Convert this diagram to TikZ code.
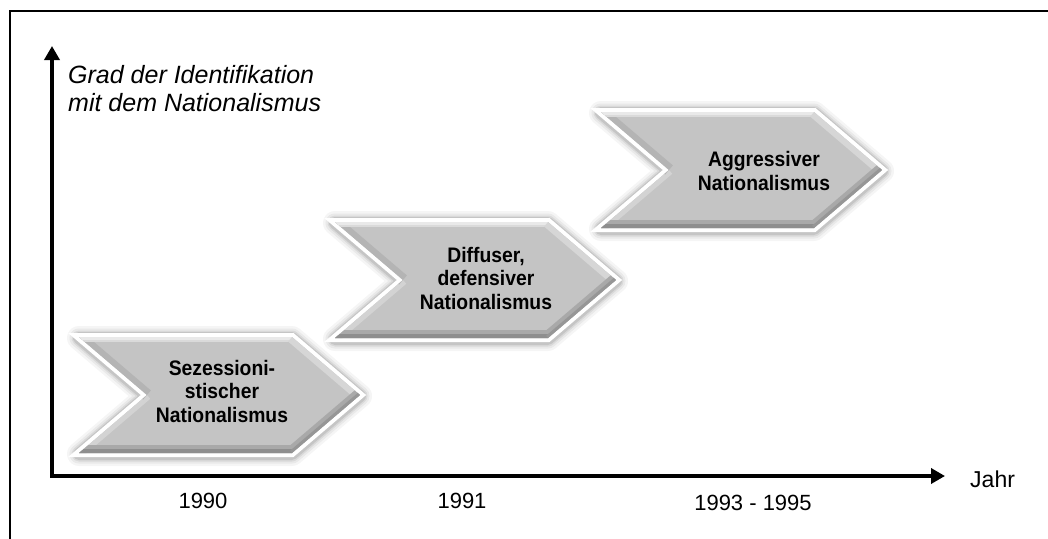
\documentclass[tikz,border=0pt]{standalone}
\usepackage{fontspec}
\setmainfont{Liberation Sans}
\newfontfamily\chevfont[FakeStretch=0.92]{Liberation Sans}
\usetikzlibrary{arrows.meta}
\definecolor{chevfill}{HTML}{C4C4C4}
\definecolor{bevlight}{HTML}{DADADA}
\definecolor{bevdark}{HTML}{8E8E8E}
\definecolor{bevmid}{HTML}{A9A9A9}
\tikzset{
  framestyle/.style={line width=2.5pt, line cap=rect},
  axisstyle/.style={line width=4.5pt, line join=miter,
     {Triangle[length=14pt,width=15pt]}-{Triangle[length=14pt,width=15pt]}},
  chevtext/.style={font=\chevfont\fontsize{21}{23.5}\selectfont\bfseries, align=center, text=black, inner sep=0pt},
  axislabel/.style={font=\fontsize{25}{28}\selectfont\itshape, align=left, inner sep=0pt, anchor=north west},
  yearlabel/.style={font=\fontsize{22}{26}\selectfont, inner sep=0pt, anchor=base},
}
% #1 = left, #2 = top of the outer chevron
\newcommand\drawchevron[2]{%
  \path (#1+4,#2+4) coordinate (A) (#1+217,#2+4) coordinate (B)
        (#1+285,#2+62) coordinate (C) (#1+217,#2+120) coordinate (D)
        (#1+4,#2+120) coordinate (E) (#1+72,#2+62) coordinate (F);
  \foreach \w/\o in {24/0.04,19/0.05,15/0.07,12/0.09}{%
    \draw[line width=\w pt, black, opacity=\o, line join=round] ([yshift=-1pt]A)--([yshift=-1pt]B)--([yshift=-1pt]C)--([yshift=-1pt]D)--([yshift=-1pt]E)--([yshift=-1pt]F)--cycle;}
  \filldraw[white, line width=8pt, line join=miter] (A)--(B)--(C)--(D)--(E)--(F)--cycle;
  \fill[chevfill] (A)--(B)--(C)--(D)--(E)--(F)--cycle;
  \begin{scope}
    \clip (A)--(B)--(C)--(D)--(E)--(F)--cycle;
    \draw[line width=10pt, bevlight!70!chevfill] (E)--(F);
    \draw[line width=12pt, bevmid!60!chevfill] (F)--(A);
    \draw[line width=10pt, bevlight] (A)--(B);
    \draw[line width=5pt, bevlight!60!white] (A)--(B);
    \draw[line width=12pt, bevlight!80!chevfill] (B)--(C);
    \draw[line width=14pt, bevmid] (C)--(D);
    \draw[line width=16pt, bevmid] (D)--(E);
    \draw[line width=8pt, bevdark] (D)--(E);
    \draw[line width=6pt, bevdark!70!bevmid] (C)--(D);
  \end{scope}
}
\begin{document}
\begin{tikzpicture}[x=1pt,y=-1pt]
\useasboundingbox (0,0) rectangle (1048,538);
% frame
\coordinate (frTR) at (1050,11);
\coordinate (frTL) at (10,11);
\coordinate (frBL) at (10,540);
\draw[framestyle] (frTR) -- (frTL) -- (frBL);
% chevrons
\drawchevron{75}{333}
\drawchevron{331}{218}
\drawchevron{597}{108}
\node[chevtext] (c1) at (222,391) {Sezessioni-\\stischer\\Nationalismus};
\node[chevtext] (c2) at (486,278) {Diffuser,\\defensiver\\Nationalismus};
\node[chevtext] (c3) at (764,171) {Aggressiver\\Nationalismus};
% axes
\coordinate (ytip) at (52,46);
\coordinate (origin) at (52,476);
\coordinate (xtip) at (945,476);
\draw[axisstyle] (ytip) -- (origin) -- (xtip);
\node[axislabel] (ylab) at (68,65) {Grad der Identifikation\\mit dem Nationalismus};
\node[font=\fontsize{23}{26}\selectfont, inner sep=0pt, anchor=base west] (xlab) at (970,487) {Jahr};
\node[yearlabel] (y1) at (203,508) {1990};
\node[yearlabel] (y2) at (462,508) {1991};
\node[yearlabel] (y3) at (753,510) {1993 - 1995};
\end{tikzpicture}
\end{document}
